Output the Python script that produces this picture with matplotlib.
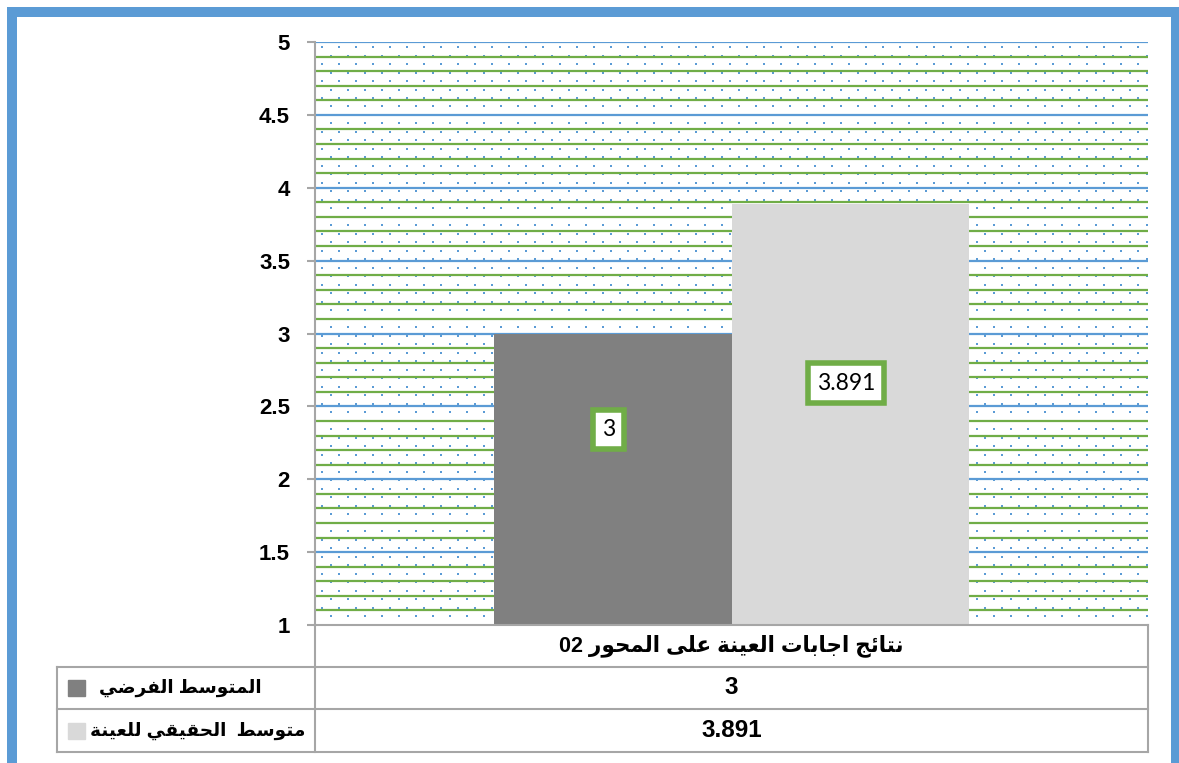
import re
import numpy as np
import matplotlib
matplotlib.use('Agg')
import matplotlib.pyplot as plt
from matplotlib.lines import Line2D
from matplotlib.patches import Rectangle

# data
category = 'نتائج اجابات العينة على المحور 02'
series_names = ['المتوسط الفرضي', 'متوسط  الحقيقي للعينة']
values = [3, 3.891]
value_labels = ['3', '3.891']
bar_colors = ['#808080', '#D9D9D9']
yticks = [1, 1.5, 2, 2.5, 3, 3.5, 4, 4.5, 5]
ytick_labels = ['1', '1.5', '2', '2.5', '3', '3.5', '4', '4.5', '5']

# arabic shaping by hand (no reshaper available)
FORMS = {
    'ا': ('\uFE8D', '\uFE8E', None, None),
    'ئ': ('\uFE89', '\uFE8A', '\uFE8B', '\uFE8C'),
    'ب': ('\uFE8F', '\uFE90', '\uFE91', '\uFE92'),
    'ة': ('\uFE93', '\uFE94', None, None),
    'ت': ('\uFE95', '\uFE96', '\uFE97', '\uFE98'),
    'ج': ('\uFE9D', '\uFE9E', '\uFE9F', '\uFEA0'),
    'ح': ('\uFEA1', '\uFEA2', '\uFEA3', '\uFEA4'),
    'ر': ('\uFEAD', '\uFEAE', None, None),
    'س': ('\uFEB1', '\uFEB2', '\uFEB3', '\uFEB4'),
    'ض': ('\uFEBD', '\uFEBE', '\uFEBF', '\uFEC0'),
    'ط': ('\uFEC1', '\uFEC2', '\uFEC3', '\uFEC4'),
    'ع': ('\uFEC9', '\uFECA', '\uFECB', '\uFECC'),
    'ف': ('\uFED1', '\uFED2', '\uFED3', '\uFED4'),
    'ق': ('\uFED5', '\uFED6', '\uFED7', '\uFED8'),
    'ل': ('\uFEDD', '\uFEDE', '\uFEDF', '\uFEE0'),
    'م': ('\uFEE1', '\uFEE2', '\uFEE3', '\uFEE4'),
    'ن': ('\uFEE5', '\uFEE6', '\uFEE7', '\uFEE8'),
    'و': ('\uFEED', '\uFEEE', None, None),
    'ى': ('\uFEEF', '\uFEF0', None, None),
    'ي': ('\uFEF1', '\uFEF2', '\uFEF3', '\uFEF4'),
}


def ar(s):
    out = []
    for i, ch in enumerate(s):
        if ch not in FORMS:
            out.append(ch)
            continue
        prev = s[i - 1] if i > 0 else None
        nxt = s[i + 1] if i + 1 < len(s) else None
        jp = prev in FORMS and FORMS[prev][2] is not None
        jn = FORMS[ch][2] is not None and nxt in FORMS
        iso, fin, ini, med = FORMS[ch]
        if jp and jn:
            out.append(med)
        elif jp:
            out.append(fin)
        elif jn:
            out.append(ini)
        else:
            out.append(iso)
    vis = ''.join(out)[::-1]
    return re.sub(r'[0-9.]+', lambda m: m.group(0)[::-1], vis)


W, H = 1179, 763
fig = plt.figure(figsize=(W / 100, H / 100), dpi=100)
fig.patch.set_facecolor('white')

L, R, T, B = 315, 1148, 42, 625
ax = fig.add_axes([L / W, 1 - B / H, (R - L) / W, (B - T) / H])

blue = '#5B9BD5'
green = '#70AD47'
grey = '#A6A6A6'

# dotted pattern background
dx, dy = 17 / (R - L), 8.5 / (B - T)
px, py = [], []
row = 0
yy = 1 - 5 / (B - T)
while yy > 0:
    xx = 7 / (R - L) + (dx / 2 if row % 2 else 0)
    while xx < 1:
        px.append(xx)
        py.append(yy)
        xx += dx
    yy -= dy
    row += 1
ax.scatter(px, py, s=3.2, marker='s', color=blue, linewidths=0,
           transform=ax.transAxes, zorder=0.5)

ax.set_xlim(-0.5, 0.5)
ax.set_ylim(1, 5)

# gridlines
for v in np.arange(1.1, 5.0, 0.1):
    if abs(v * 2 - round(v * 2)) > 1e-6:
        ax.axhline(v, color=green, lw=1.6, zorder=0.6)
for v in yticks[1:]:
    ax.axhline(v, color=blue, lw=1.6, zorder=0.7)

w = 0.285
xs = [-w / 2, w / 2]
ax.bar(xs, values, width=w, color=bar_colors, zorder=2)

label_x = [xs[0] - 0.005, xs[1] - 0.005]
label_y = [2.34, 2.66]
for x, y, t in zip(label_x, label_y, value_labels):
    ax.text(x, y, t, ha='center', va='center', fontsize=16.5, family='Lato',
            zorder=3,
            bbox=dict(boxstyle='square,pad=0.4', fc='white', ec=green, lw=4))

ax.set_yticks(yticks)
ax.set_yticklabels(ytick_labels)
for lbl in ax.get_yticklabels():
    lbl.set_fontfamily('Liberation Sans')
    lbl.set_fontsize(16)
    lbl.set_fontweight('bold')
ax.tick_params(axis='y', length=6, width=1.5, color=grey, pad=12)
ax.set_xticks([])
for s in ['top', 'right']:
    ax.spines[s].set_visible(False)
ax.spines['left'].set_color(grey)
ax.spines['left'].set_linewidth(1.5)
ax.spines['bottom'].set_color(grey)
ax.spines['bottom'].set_linewidth(1.5)


# data table drawn in figure pixel coords
def fx(x):
    return x / W


def fy(y):
    return 1 - y / H


def hline(y, x0, x1):
    fig.add_artist(Line2D([fx(x0), fx(x1)], [fy(y), fy(y)], color=grey, lw=1.5))


def vline(x, y0, y1):
    fig.add_artist(Line2D([fx(x), fx(x)], [fy(y0), fy(y1)], color=grey, lw=1.5))


rows = [625, 667, 709, 752]
hline(rows[1], 57, R)
hline(rows[2], 57, R)
hline(rows[3], 57, R)
vline(57, rows[1], rows[3])
vline(L, rows[0], rows[3])
vline(R, rows[0], rows[3])

fam = ['Liberation Sans', 'DejaVu Sans']
cx = (L + R) / 2
fig.text(fx(cx), fy((rows[0] + rows[1]) / 2), ar(category), ha='center',
         va='center', fontsize=15.5, fontweight='bold', family=fam)
text_left = [99, 90]
for i in range(2):
    yc = (rows[i + 1] + rows[i + 2]) / 2
    fig.text(fx(cx), fy(yc), value_labels[i], ha='center', va='center',
             fontsize=17.5, fontweight='bold', family=fam)
    fig.add_artist(Rectangle((fx(68), fy(yc + 8)), 17 / W, 16 / H,
                             color=bar_colors[i]))
    fig.text(fx(text_left[i]), fy(yc), ar(series_names[i]), ha='left',
             va='center', fontsize=13.3, fontweight='bold', family=fam)

# outer frame
fig.add_artist(Rectangle((fx(12), fy(765)), (1176 - 12) / W, (765 - 12) / H,
                         fill=False, ec=blue, lw=7.2, clip_on=False))

fig.savefig('out.png', dpi=100)
